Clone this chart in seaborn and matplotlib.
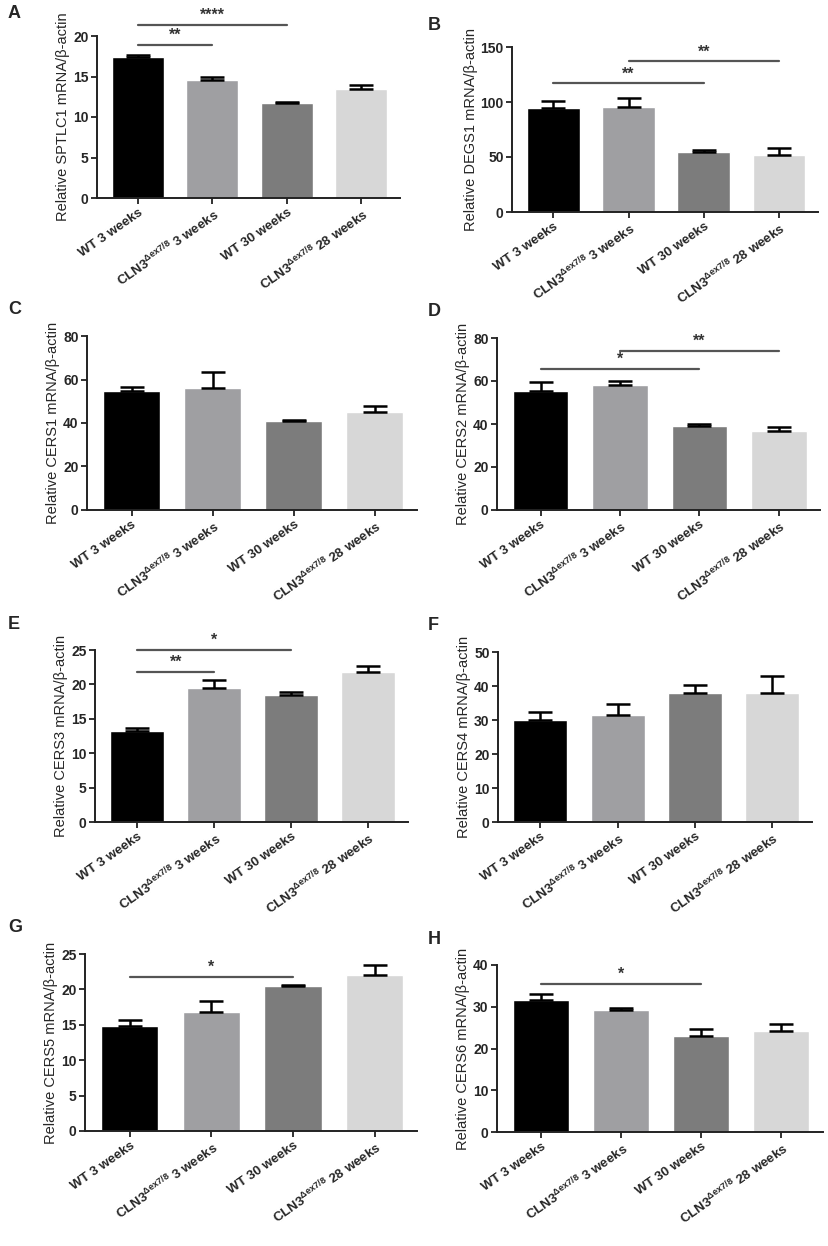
import matplotlib
matplotlib.use('Agg')
import matplotlib.pyplot as plt
import seaborn as sns
import pandas as pd

# grupos (eixo x) e cores das barras
grupos = ['WT 3 weeks', r'CLN3$^{\Delta ex7/8}$ 3 weeks', 'WT 30 weeks', r'CLN3$^{\Delta ex7/8}$ 28 weeks']
cores = ['#000000', '#9e9ea3', '#7c7c7c', '#d7d7d7']

sptlc1 = [17.4, 14.6, 11.7, 13.4]
sptlc1_err = [0.2, 0.3, 0.15, 0.5]
degs1 = [94.5, 95.5, 54.5, 52]
degs1_err = [6.5, 8, 1.5, 6]
cers1 = [54.7, 56, 41, 45]
cers1_err = [1.9, 7.4, 0.4, 2.8]
cers2 = [55.5, 58, 39.3, 36.8]
cers2_err = [4, 2, 0.5, 1.8]
cers3 = [13.2, 19.5, 18.5, 21.8]
cers3_err = [0.4, 1.1, 0.4, 0.9]
cers4 = [30, 31.5, 38, 38]
cers4_err = [2.4, 3.2, 2.3, 5]
cers5 = [14.8, 16.8, 20.5, 22]
cers5_err = [0.9, 1.5, 0.1, 1.5]
cers6 = [31.6, 29.2, 23, 24.2]
cers6_err = [1.4, 0.4, 1.6, 1.6]

# significância: (grupo i, grupo j, altura da linha, texto)
sig_a = [(0, 1, 18.9, '**'), (0, 2, 21.4, '****')]
sig_b = [(0, 2, 117, '**'), (1, 3, 137, '**')]
sig_d = [(0, 2, 65.6, '*'), (1, 3, 74, '**')]
sig_e = [(0, 1, 21.8, '**'), (0, 2, 25, '*')]
sig_g = [(0, 2, 21.7, '*')]
sig_h = [(0, 2, 35.4, '*')]

sns.set_style('ticks')
plt.rcParams['font.family'] = ['Liberation Sans', 'DejaVu Sans']
plt.rcParams['mathtext.fontset'] = 'custom'
plt.rcParams['mathtext.rm'] = 'Liberation Sans:bold'
plt.rcParams['mathtext.it'] = 'Liberation Sans:bold'
plt.rcParams['mathtext.bf'] = 'Liberation Sans:bold'

W, H = 829, 1246
fig = plt.figure(figsize=(W / 100, H / 100), dpi=100)

# painel: letra, valores, erros, gene, ymax, passo, sig, caixa em pixels (x0, x1, ytopo, ybase)
paineis = [
    ('A', sptlc1, sptlc1_err, 'SPTLC1', 20, 5, sig_a, (97, 400, 36, 198)),
    ('B', degs1, degs1_err, 'DEGS1', 150, 50, sig_b, (512, 818, 47, 212)),
    ('C', cers1, cers1_err, 'CERS1', 80, 20, [], (87, 417, 336, 510)),
    ('D', cers2, cers2_err, 'CERS2', 80, 20, sig_d, (497, 820, 338, 510)),
    ('E', cers3, cers3_err, 'CERS3', 25, 5, sig_e, (95, 408, 650, 822)),
    ('F', cers4, cers4_err, 'CERS4', 50, 10, [], (498, 812, 652, 822)),
    ('G', cers5, cers5_err, 'CERS5', 25, 5, sig_g, (85, 417, 954, 1131)),
    ('H', cers6, cers6_err, 'CERS6', 40, 10, sig_h, (497, 823, 965, 1132)),
]

for letra, vals, errs, gene, ymax, passo, sig, (x0, x1, yt, yb) in paineis:
    ax = fig.add_axes([x0 / W, 1 - yb / H, (x1 - x0) / W, (yb - yt) / H])
    df = pd.DataFrame({'grupo': grupos, 'valor': vals})
    sns.barplot(data=df, x='grupo', y='valor', hue='grupo', palette=cores,
                order=grupos, width=0.7, errorbar=None, legend=False, ax=ax)
    # barra de erro só para cima (estilo GraphPad)
    ax.errorbar(range(4), vals, yerr=[[0] * 4, errs], fmt='none', ecolor='black',
                elinewidth=1.8, capsize=8.5, capthick=1.8, clip_on=False, zorder=3)
    ax.set_xlim(-0.55, 3.52)
    ax.set_ylim(0, ymax)
    ax.set_yticks(range(0, ymax + 1, passo))
    ax.set_xlabel('')
    ax.set_ylabel('Relative ' + gene + r' mRNA/β-actin', fontsize=10.5, labelpad=2)
    ax.set_xticks(range(4))
    ax.set_xticklabels(grupos, rotation=35, ha='right', rotation_mode='anchor',
                       fontsize=9.5, fontweight='bold')
    for t in ax.get_yticklabels():
        t.set_fontweight('bold')
        t.set_fontsize(10)
    sns.despine(ax=ax)
    for s in ['left', 'bottom']:
        ax.spines[s].set_linewidth(1.4)
        ax.spines[s].set_color('#222222')
    ax.tick_params(axis='both', width=1.3, length=4, color='#222222', pad=2)

    for i, j, y, txt in sig:
        ax.plot([i, j], [y, y], color='#555555', lw=1.6, clip_on=False)
        ax.text((i + j) / 2, y + ymax * 0.012, txt, ha='center', va='bottom',
                fontsize=11.5, fontweight='bold', color='#333333', clip_on=False)

    lx = 8 if x0 < 400 else 428
    fig.text(lx / W, 1 - (yt - 22 if letra in 'AB' else yt - 26) / H, letra,
             fontsize=13, fontweight='bold', ha='left', va='center')

fig.savefig('out.png', dpi=100)
